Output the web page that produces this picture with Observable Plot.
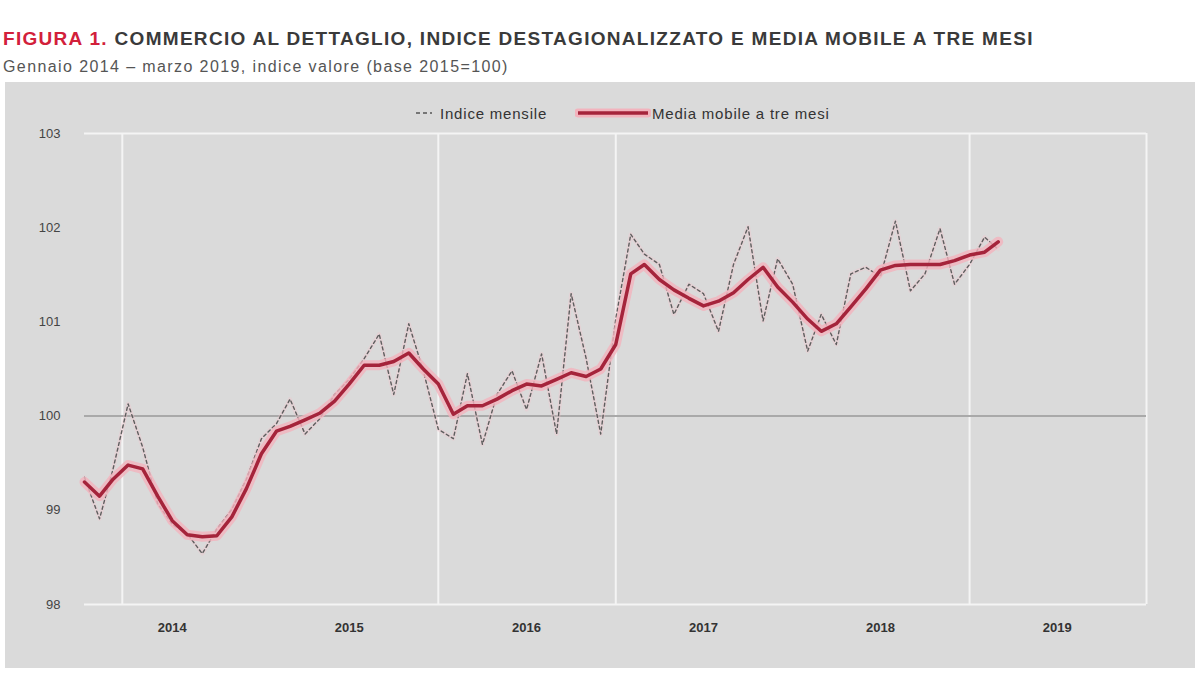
<!DOCTYPE html>
<html>
<head>
<meta charset="utf-8">
<script src="https://cdn.jsdelivr.net/npm/d3@7"></script>
<script src="https://cdn.jsdelivr.net/npm/@observablehq/plot@0.6"></script>
<style>
  html, body { margin: 0; padding: 0; background: #ffffff; }
  body { width: 1200px; height: 679px; position: relative; font-family: "Liberation Sans", Arial, sans-serif; overflow: hidden; }
  #title { position: absolute; left: 3px; top: 28px; font-size: 19px; font-weight: bold; color: #3a3a3a; white-space: nowrap; letter-spacing: 1.3px; }
  #title .fig { color: #d2203a; }
  #subtitle { position: absolute; left: 3px; top: 58px; font-size: 16px; color: #555; white-space: nowrap; letter-spacing: 1.4px; }
  #box { position: absolute; left: 5px; top: 82px; width: 1190px; height: 586px; background: #dadada; }
  #legend { position: absolute; left: 0; top: 0; width: 1190px; height: 45px; font-size: 15px; color: #333; letter-spacing: 0.8px; }
  .lg { position: absolute; top: 21px; display: flex; align-items: center; white-space: nowrap; }
  #chart { position: absolute; left: 0; top: 45px; }
</style>
</head>
<body>
<div id="title"><span class="fig">FIGURA 1.</span> COMMERCIO AL DETTAGLIO, INDICE DESTAGIONALIZZATO E MEDIA MOBILE A TRE MESI</div>
<div id="subtitle">Gennaio 2014 – marzo 2019, indice valore (base 2015=100)</div>
<div id="box">
  <div id="legend">
    <div class="lg" style="left:411px;">
      <svg width="20" height="20"><line x1="0" y1="10" x2="16" y2="10" stroke="#555" stroke-width="1.5" stroke-dasharray="4,3"/></svg>
      <span style="margin-left:4px;">Indice mensile</span>
    </div>
    <div class="lg" style="left:570px;">
      <svg width="76" height="20"><line x1="3" y1="10" x2="73" y2="10" stroke="#f2b3bd" stroke-width="9" stroke-linecap="round"/><line x1="3" y1="10" x2="73" y2="10" stroke="#a5243b" stroke-width="3.5"/></svg>
      <span style="margin-left:1px;">Media mobile a tre mesi</span>
    </div>
  </div>
  <div id="chart"></div>
</div>
<script>
// Months (Jan 2014 – Mar 2019)
const months = [
  "2014-01","2014-02","2014-03","2014-04","2014-05","2014-06","2014-07","2014-08","2014-09","2014-10","2014-11","2014-12",
  "2015-01","2015-02","2015-03","2015-04","2015-05","2015-06","2015-07","2015-08","2015-09","2015-10","2015-11","2015-12",
  "2016-01","2016-02","2016-03","2016-04","2016-05","2016-06","2016-07","2016-08","2016-09","2016-10","2016-11","2016-12",
  "2017-01","2017-02","2017-03","2017-04","2017-05","2017-06","2017-07","2017-08","2017-09","2017-10","2017-11","2017-12",
  "2018-01","2018-02","2018-03","2018-04","2018-05","2018-06","2018-07","2018-08","2018-09","2018-10","2018-11","2018-12",
  "2019-01","2019-02","2019-03"
];
// Indice mensile (destagionalizzato)
const indiceMensile = [
  99.35, 98.91, 99.44, 100.13, 99.67, 99.07, 98.85, 98.75, 98.54, 98.80, 99.01, 99.33,
  99.76, 99.92, 100.18, 99.81, 99.97, 100.23, 100.39, 100.61, 100.87, 100.23, 100.98, 100.48,
  99.86, 99.76, 100.45, 99.70, 100.23, 100.48, 100.07, 100.66, 99.81, 101.30, 100.61, 99.81,
  101.03, 101.93, 101.72, 101.61, 101.08, 101.40, 101.30, 100.90, 101.61, 102.01, 101.01, 101.67,
  101.40, 100.69, 101.08, 100.76, 101.51, 101.58, 101.48, 102.07, 101.33, 101.51, 101.99, 101.40,
  101.61, 101.90, 101.77
];
// Media mobile a tre mesi
const mediaMobile = [
  99.30, 99.15, 99.33, 99.48, 99.44, 99.15, 98.89, 98.74, 98.72, 98.73, 98.93, 99.23,
  99.60, 99.84, 99.89, 99.96, 100.03, 100.16, 100.34, 100.54, 100.54, 100.58, 100.67, 100.50,
  100.34, 100.02, 100.11, 100.11, 100.18, 100.27, 100.34, 100.32, 100.39, 100.46, 100.42, 100.50,
  100.76, 101.51, 101.61, 101.45, 101.34, 101.25, 101.17, 101.22, 101.31, 101.45, 101.58, 101.37,
  101.21, 101.03, 100.90, 100.98, 101.16, 101.35, 101.55, 101.60, 101.61, 101.61, 101.61, 101.65,
  101.71, 101.74, 101.85
];
const yTicks = [98, 99, 100, 101, 102, 103];
const yearLabels = ["2014", "2015", "2016", "2017", "2018", "2019"];
const verticalRules = ["2014-03-20", "2016-01-01", "2017-01-01", "2019-01-01", "2020-01-01"];
const referenceLine = 100;

const parseM = d3.utcParse("%Y-%m");
const parseD = d3.utcParse("%Y-%m-%d");
const data = months.map((m, i) => ({date: parseM(m), mensile: indiceMensile[i], media: mediaMobile[i]}));
const yearTicks = yearLabels.map(y => parseD(y + "-07-01"));
const vRules = verticalRules.map(parseD);

const chart = Plot.plot({
  width: 1190,
  height: 541,
  marginLeft: 79,
  marginRight: 49,
  marginTop: 6,
  marginBottom: 64,
  style: {background: "transparent", fontFamily: "Liberation Sans, Arial, sans-serif"},
  x: {type: "utc", domain: [parseD("2014-01-01"), parseD("2020-01-01")], axis: null},
  y: {domain: [98, 103], axis: null},
  marks: [
    Plot.ruleY([98, 103], {stroke: "#f4f4f4", strokeWidth: 2}),
    Plot.ruleX(vRules, {y1: 98, y2: 103, stroke: "#f4f4f4", strokeWidth: 2}),
    Plot.ruleY([referenceLine], {stroke: "#a9a9a9", strokeWidth: 2}),
    Plot.axisY(yTicks, {tickSize: 0, tickPadding: 24, fontSize: 13, fill: "#444", tickFormat: d => String(d)}),
    Plot.axisX(yearTicks, {tickSize: 0, tickPadding: 18, fontSize: 13, fontWeight: "bold", fill: "#333", tickFormat: d => d3.utcFormat("%Y")(d)}),
    Plot.line(data, {x: "date", y: "mensile", stroke: "#f3c3cb", strokeWidth: 4, strokeOpacity: 0.35}),
    Plot.line(data, {x: "date", y: "mensile", stroke: "#5e5e5e", strokeWidth: 1.4, strokeDasharray: "3,3"}),
    Plot.line(data, {x: "date", y: "media", stroke: "#f2b3bd", strokeWidth: 10, strokeOpacity: 0.8, strokeLinejoin: "round"}),
    Plot.line(data, {x: "date", y: "media", stroke: "#a5243b", strokeWidth: 3.5, strokeLinejoin: "round"})
  ]
});
document.getElementById("chart").appendChild(chart);
</script>
</body>
</html>
